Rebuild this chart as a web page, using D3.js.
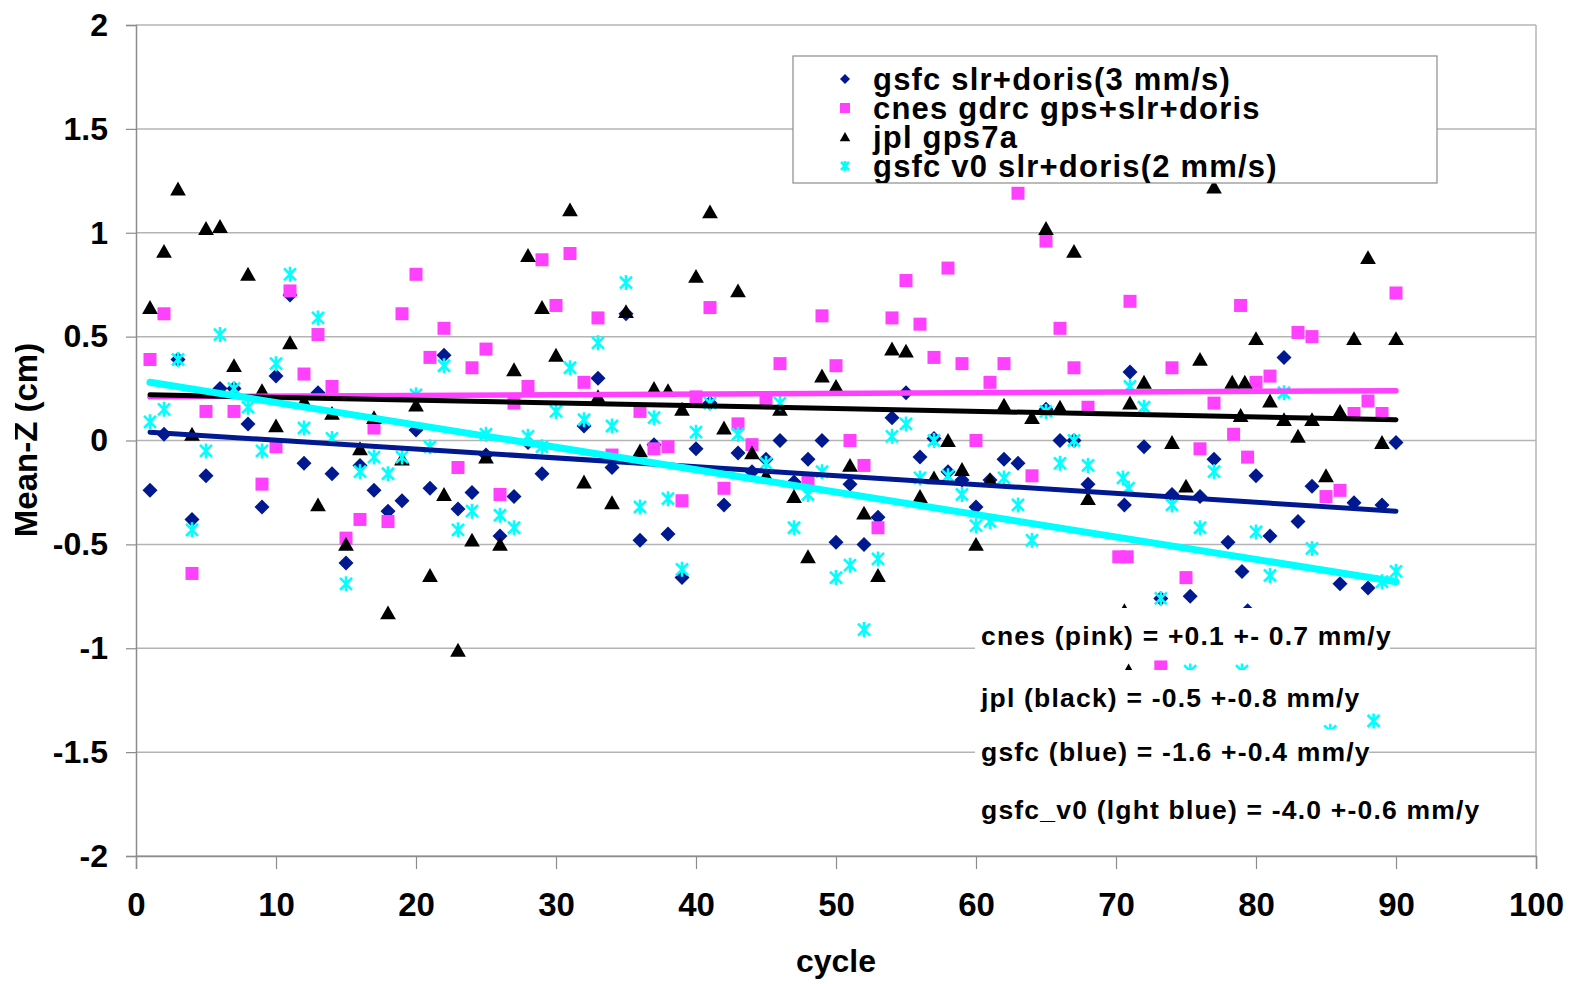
<!DOCTYPE html>
<html>
<head>
<meta charset="utf-8">
<script src="https://cdn.jsdelivr.net/npm/d3@7"></script>
<style>
  body { margin: 0; background: #fff; }
  svg { display: block; }
  text { font-family: "Liberation Sans", Arial, sans-serif; font-weight: bold; fill: #000; }
</style>
</head>
<body>
<script>
// --- data: [cycle, mean-Z (cm)] ---
const gsfcPoints = [
  [1,-0.24],[2,0.03],[3,0.39],[4,-0.38],[5,-0.17],[6,0.25],[7,0.25],[8,0.08],[9,-0.32],[10,0.31],
  [11,0.70],[12,-0.11],[13,0.23],[14,-0.16],[15,-0.59],[16,-0.12],[17,-0.24],[18,-0.34],[19,-0.29],[20,0.05],
  [21,-0.23],[22,0.41],[23,-0.33],[24,-0.25],[25,-0.07],[26,-0.46],[27,-0.27],[28,-0.01],[29,-0.16],
  [32,0.07],[33,0.30],[34,-0.13],[35,0.61],[36,-0.48],[37,-0.02],[38,-0.45],[39,-0.66],[40,-0.04],
  [41,0.18],[42,-0.31],[43,-0.06],[44,-0.15],[45,-0.09],[46,0.0],[47,-0.20],[48,-0.09],[49,0.0],[50,-0.49],
  [51,-0.21],[52,-0.50],[53,-0.37],[54,0.11],[55,0.23],[56,-0.08],[57,0.01],[58,-0.15],[59,-0.19],[60,-0.32],
  [61,-0.19],[62,-0.09],[63,-0.11],[65,0.15],[66,0.0],[67,0.0],[68,-0.21],[70.6,-0.31],[71,0.33],
  [72,-0.03],[73.2,-0.76],[74,-0.26],[75.3,-0.75],[76,-0.27],[77,-0.09],[78,-0.49],[79,-0.63],[79.4,-0.82],
  [80,-0.17],[81,-0.46],[82,0.40],[83,-0.39],[84,-0.22],[86,-0.69],[87,-0.30],[88,-0.71],[89,-0.31],[90,-0.01]
];
const cnesPoints = [
  [1,0.39],[2,0.61],[4,-0.64],[5,0.14],[7,0.14],[9,-0.21],[10,-0.03],[11,0.72],[12,0.32],[13,0.51],
  [14,0.26],[15,-0.47],[16,-0.38],[17,0.06],[18,-0.39],[19,0.61],[20,0.80],[21,0.40],[22,0.54],[23,-0.13],
  [24,0.35],[25,0.44],[26,-0.26],[27,0.18],[28,0.26],[29,0.87],[30,0.65],[31,0.90],[32,0.28],[33,0.59],
  [34,-0.07],[36,0.14],[37,-0.04],[38,-0.03],[39,-0.29],[40,0.21],[41,0.64],[42,-0.23],[43,0.08],[44,-0.02],
  [45,0.19],[46,0.37],[48,-0.20],[49,0.60],[50,0.36],[51,0.0],[52,-0.12],[53,-0.42],[54,0.59],[55,0.77],
  [56,0.56],[57,0.40],[58,0.83],[59,0.37],[60,0.0],[61,0.28],[62,0.37],[63,1.19],[64,-0.17],[65,0.96],
  [66,0.54],[67,0.35],[68,0.16],[70.2,-0.56],[70.8,-0.56],[71,0.67],[73.2,-1.09],[74,0.35],[75,-0.66],
  [76,-0.04],[77,0.18],[78.4,0.03],[78.9,0.65],[79.4,-0.08],[80,0.28],[81,0.31],[83,0.52],[84,0.50],
  [85,-0.27],[86,-0.24],[87,0.13],[88,0.19],[89,0.13],[90,0.71]
];
const jplPoints = [
  [1,0.64],[2,0.91],[3,1.21],[4,0.03],[5,1.02],[6,1.03],[7,0.36],[8,0.80],[9,0.24],[10,0.07],
  [11,0.47],[12,0.19],[13,-0.31],[14,0.13],[15,-0.50],[16,-0.04],[17,0.11],[18,-0.83],[19,-0.09],[20,0.17],
  [21,-0.65],[22,-0.26],[23,-1.01],[24,-0.48],[25,-0.08],[26,-0.50],[27,0.34],[28,0.89],[29,0.64],[30,0.41],
  [31,1.11],[32,-0.20],[33,0.21],[34,-0.30],[35,0.62],[36,-0.05],[37,0.25],[38,0.24],[39,0.15],[40,0.79],
  [41,1.10],[42,0.06],[43,0.72],[44,-0.06],[45,-0.17],[46,0.15],[47,-0.27],[48,-0.56],[49,0.31],[50,0.26],
  [51,-0.12],[52,-0.35],[53,-0.65],[54,0.44],[55,0.43],[56,-0.27],[57,-0.18],[58,0.0],[59,-0.14],[60,-0.50],
  [61,-0.19],[62,0.17],[64,0.11],[65,1.02],[66,0.16],[67,0.91],[68,-0.28],[70.6,-0.82],[70.9,-1.11],
  [71,0.18],[72,0.28],[74,-0.01],[75,-0.22],[76,0.39],[77,1.22],[78.3,0.28],[78.9,0.12],[79.2,0.28],
  [80,0.49],[81,0.19],[82,0.10],[83,0.02],[84,0.10],[85,-0.17],[86,0.14],[87,0.49],[88,0.88],[89,-0.01],[90,0.49]
];
const gsfcV0Points = [
  [1,0.09],[2,0.15],[3,0.39],[4,-0.43],[5,-0.05],[6,0.51],[7,0.25],[8,0.16],[9,-0.05],[10,0.37],
  [11,0.80],[12,0.06],[13,0.59],[14,0.01],[15,-0.69],[16,-0.15],[17,-0.08],[18,-0.16],[19,-0.08],[20,0.22],
  [21,-0.03],[22,0.36],[23,-0.43],[24,-0.34],[25,0.03],[26,-0.36],[27,-0.42],[28,0.02],[29,-0.03],[30,0.14],
  [31,0.35],[32,0.10],[33,0.47],[34,0.07],[35,0.76],[36,-0.32],[37,0.11],[38,-0.28],[39,-0.62],[40,0.04],
  [41,0.18],[43,0.03],[45,-0.11],[46,0.18],[47,-0.42],[48,-0.26],[49,-0.15],[50,-0.66],[51,-0.60],[52,-0.91],
  [53,-0.57],[54,0.02],[55,0.08],[56,-0.18],[57,0.0],[58,-0.17],[59,-0.26],[60,-0.41],[61,-0.39],[62,-0.18],
  [63,-0.31],[64,-0.48],[65,0.14],[66,-0.11],[67,0.0],[68,-0.12],[70.5,-0.18],[70.9,-0.23],[71,0.26],
  [72,0.16],[73.2,-0.76],[74,-0.31],[75.3,-1.11],[76,-0.42],[77,-0.15],[79,-1.11],[80,-0.44],[81,-0.65],
  [82,0.23],[84,-0.52],[85.3,-1.40],[88.4,-1.35],[89,-0.68],[90,-0.63]
];

// linear trend lines: value at first and last cycle
const trendCycles = [1, 90];
const gsfcTrend = [0.04, -0.34];
const cnesTrend = [0.21, 0.24];
const jplTrend = [0.22, 0.10];
const gsfcV0Trend = [0.28, -0.68];

const legendLabels = ["gsfc slr+doris(3 mm/s)", "cnes gdrc gps+slr+doris", "jpl gps7a", "gsfc v0 slr+doris(2 mm/s)"];
const rateNotes = [
  "cnes (pink) = +0.1 +- 0.7 mm/y",
  "jpl (black) = -0.5 +-0.8 mm/y",
  "gsfc (blue) = -1.6 +-0.4 mm/y",
  "gsfc_v0 (lght blue) = -4.0 +-0.6 mm/y"
];
const xTicks = d3.range(0, 101, 10);
const yTicks = [2, 1.5, 1, 0.5, 0, -0.5, -1, -1.5, -2];

// --- layout ---
const width = 1574, height = 984;
const plot = { left: 136, right: 1536, top: 25, bottom: 856 };

const svg = d3.select("body").append("svg")
  .attr("width", width)
  .attr("height", height);

const x = d3.scaleLinear().domain([0, 100]).range([plot.left, plot.right]);
const y = d3.scaleLinear().domain([-2, 2]).range([plot.bottom, plot.top]);

// gridlines
svg.append("g")
  .selectAll("line")
  .data(yTicks)
  .enter().append("line")
  .attr("x1", plot.left).attr("x2", plot.right)
  .attr("y1", d => y(d)).attr("y2", d => y(d))
  .attr("stroke", "#b4b4b4")
  .attr("stroke-width", 1.5);

// plot border right side
svg.append("line")
  .attr("x1", plot.right).attr("x2", plot.right).attr("y1", plot.top).attr("y2", plot.bottom)
  .attr("stroke", "#b4b4b4").attr("stroke-width", 1.5);

// axes
const xAxis = svg.append("g")
  .attr("transform", `translate(0,${plot.bottom})`)
  .call(d3.axisBottom(x).tickValues(xTicks).tickSize(13).tickPadding(24).tickFormat(d3.format("d")));
const yAxis = svg.append("g")
  .attr("transform", `translate(${plot.left},0)`)
  .call(d3.axisLeft(y).tickValues(yTicks).tickSize(10).tickPadding(18).tickFormat(d => d));

[xAxis, yAxis].forEach(a => {
  a.select(".domain").attr("stroke", "#8c8c8c").attr("stroke-width", 1.5);
  a.selectAll(".tick line").attr("stroke", "#8c8c8c").attr("stroke-width", 1.2);
  a.selectAll("text")
    .attr("font-family", "\"Liberation Sans\", Arial, sans-serif")
    .attr("font-weight", "bold")
    .attr("fill", "#000");
});
xAxis.selectAll("text").attr("font-size", 33);
yAxis.selectAll("text").attr("font-size", 32);

// axis titles
svg.append("text")
  .attr("x", (plot.left + plot.right) / 2)
  .attr("y", 972)
  .attr("text-anchor", "middle")
  .attr("font-size", 32)
  .text("cycle");

// the y title is cut at its top edge in the original
svg.append("clipPath").attr("id", "yclip")
  .append("rect").attr("x", 15).attr("y", 0).attr("width", 60).attr("height", height);
svg.append("g").attr("clip-path", "url(#yclip)")
  .append("text")
  .attr("transform", "translate(37,440) rotate(-90)")
  .attr("text-anchor", "middle")
  .attr("font-size", 33)
  .text("Mean-Z (cm)");

// marker shapes
const markers = {
  diamond: r => `M0,${-r}L${r},0L0,${r}L${-r},0Z`,
  square: r => `M${-r},${-r}H${r}V${r}H${-r}Z`,
  triangle: r => `M0,${-r}L${r * 1.05},${r * 0.85}L${-r * 1.05},${r * 0.85}Z`,
  star: r => `M${-r * 0.8},${-r * 0.8}L${r * 0.8},${r * 0.8}M${-r * 0.8},${r * 0.8}L${r * 0.8},${-r * 0.8}M0,${-r}L0,${r}`
};

const series = [
  { points: gsfcPoints, trend: gsfcTrend, shape: "diamond", size: 7.5, color: "#001890", lw: 5 },
  { points: cnesPoints, trend: cnesTrend, shape: "square", size: 6.5, color: "#ff40ff", lw: 5.5 },
  { points: jplPoints, trend: jplTrend, shape: "triangle", size: 7.5, color: "#000", lw: 5 },
  { points: gsfcV0Points, trend: gsfcV0Trend, shape: "star", size: 7.5, color: "#00ffff", lw: 7 }
];

function drawMarker(sel, s, r) {
  sel.attr("d", markers[s.shape](r));
  if (s.shape === "star") {
    sel.attr("fill", "none").attr("stroke", s.color).attr("stroke-width", 2.6);
  } else {
    sel.attr("fill", s.color);
  }
}

// points
series.forEach(s => {
  svg.append("g")
    .selectAll("path")
    .data(s.points)
    .enter().append("path")
    .attr("transform", d => `translate(${x(d[0])},${y(d[1])})`)
    .call(sel => drawMarker(sel, s, s.size));
});

// trend lines
const line = d3.line().x(d => x(d[0])).y(d => y(d[1]));
series.forEach(s => {
  svg.append("path")
    .datum(trendCycles.map((c, i) => [c, s.trend[i]]))
    .attr("d", line)
    .attr("fill", "none")
    .attr("stroke", s.color)
    .attr("stroke-width", s.lw)
    .attr("stroke-linecap", "round");
});

// legend (rows are packed tightly, as in the original)
const legend = svg.append("g");
legend.append("rect")
  .attr("x", 793).attr("y", 56).attr("width", 644).attr("height", 127)
  .attr("fill", "#fff").attr("stroke", "#8c8c8c").attr("stroke-width", 1.2);
legend.append("clipPath").attr("id", "lclip")
  .append("rect").attr("x", 793).attr("y", 56).attr("width", 644).attr("height", 127);
const rows = legend.append("g").attr("clip-path", "url(#lclip)");
legendLabels.forEach((label, i) => {
  const cy = 79 + i * 29;
  rows.append("path")
    .attr("transform", `translate(845,${cy})`)
    .call(sel => drawMarker(sel, series[i], 5));
  rows.append("text")
    .attr("x", 873).attr("y", cy + 11)
    .attr("font-size", 31)
    .attr("letter-spacing", 1.2)
    .text(label);
});

// rate text boxes with white backgrounds
const noteBaselines = [645, 707, 761, 819];
const noteTops = [608, 670, 729, 785];
rateNotes.forEach((t, i) => {
  const g = svg.append("g");
  const bg = g.append("rect").attr("fill", "#fff");
  const txt = g.append("text")
    .attr("x", 981).attr("y", noteBaselines[i])
    .attr("font-size", 26.5)
    .attr("letter-spacing", 1.2)
    .text(t);
  const w = txt.node().getComputedTextLength();
  bg.attr("x", 975).attr("y", noteTops[i])
    .attr("width", w + 4).attr("height", noteBaselines[i] + 13 - noteTops[i]);
});
</script>
</body>
</html>
